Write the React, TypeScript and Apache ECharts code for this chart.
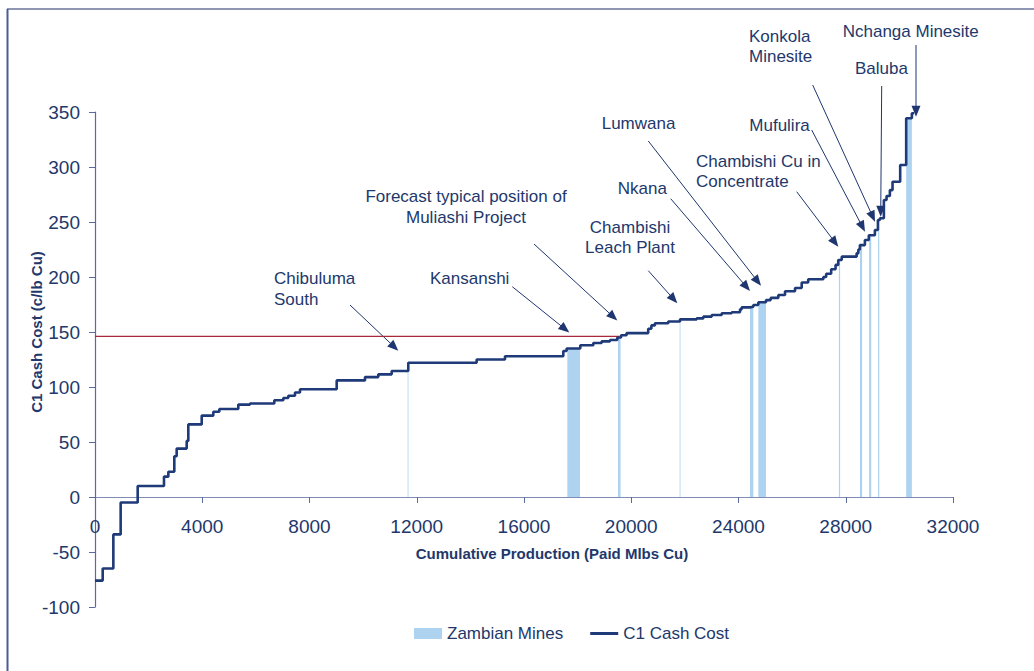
import React, { useEffect, useRef } from "react";
import * as echarts from "echarts";

// ---- Data ----
// Cost-curve steps: cumulative production at which each cost level starts (Mlbs Cu), and the C1 cash cost (c/lb Cu)
const stepStart = [0, 287, 684, 957, 1592, 2573, 2735, 2958, 3046, 3420, 3480, 3980, 4413, 4637, 5345, 5781, 6688, 7024, 7210, 7459, 7646, 9014, 10070, 10566, 11065, 11684, 14234, 15291, 17466, 17590, 18100, 18585, 18896, 19207, 19480, 19620, 19826, 20633, 20750, 20882, 21379, 21819, 22442, 22690, 23001, 23374, 23747, 24057, 24119, 24429, 24553, 24740, 25026, 25200, 25486, 25735, 26108, 26357, 26600, 27164, 27270, 27456, 27620, 27720, 27850, 28405, 28470, 28528, 28714, 28860, 29087, 29200, 29273, 29422, 29522, 29646, 29745, 30030, 30254, 30466, 30550];
const stepCost = [-76, -65, -34, -5, 10, 18.5, 23, 37, 44, 51, 66, 74, 77.5, 80, 84, 85, 88, 90, 92, 95, 98, 106, 109, 111.5, 114.5, 122, 125, 128, 132.7, 135, 138, 140, 141.5, 142.7, 145, 147, 149, 153, 156, 158, 159.5, 161.5, 162.4, 164, 165.5, 167, 168, 170.6, 172.4, 173, 174.5, 177, 179, 181, 183.6, 187, 190, 195, 198, 200, 203, 207, 211, 215.5, 218.5, 221.5, 225, 229, 233.6, 238, 242.7, 251.8, 253.4, 270, 273.6, 279, 286.6, 301.8, 344.3, 348.8, 348.8];

// Zambian mines
const mineNames = ["Chibuluma South", "Kansanshi", "Muliashi Project", "Chambishi Leach Plant", "Nkana", "Lumwana", "Chambishi Cu in Concentrate", "Mufulira", "Konkola Minesite", "Baluba", "Nchanga Minesite"];
const mineStart = [11660, 17615, 19505, 21805, 24429, 24740, 27745, 28530, 28870, 29205, 30254];
const mineEnd = [11690, 18089, 19602, 21835, 24553, 25026, 27790, 28610, 28950, 29250, 30466];
const mineCost = [122, 135, 145, 161.5, 173, 177, 215.5, 229, 238, 251.8, 344.3];

// Reference cost line (forecast position of Muliashi)
const refLineX = [0, 19560];
const refLineCost = [146, 146];

// Axis ticks
const xMin = 0, xMax = 32000, xStep = 4000;
const yMin = -100, yMax = 350, yStep = 50;

// Annotation labels (text only)
const annotationTexts = [
  "Chibuluma\nSouth",
  "Forecast typical position of\nMuliashi Project",
  "Kansanshi",
  "Chambishi\nLeach Plant",
  "Nkana",
  "Lumwana",
  "Chambishi Cu in\nConcentrate",
  "Mufulira",
  "Konkola\nMinesite",
  "Baluba",
  "Nchanga Minesite",
];

// ---- Layout / style ----
const FONT = '"Liberation Sans", Arial, Helvetica, sans-serif';
const NAVY = "#1f3670";
const TEXT = "#22386b";
const LINE = "#1f3a78";
const BAR = "#aed3f0";
const AXIS = "#5a6a9a";

// pixel layout of annotations: text anchor + arrow from/to
const annotLayout = [
  { x: 274, y: 268, align: "left", lh: 21, a: [350, 305, 398.3, 350.7] },
  { x: 466, y: 185.5, align: "center", lh: 21, a: [534, 244, 617.3, 320.5] },
  { x: 430, y: 268, align: "left", lh: 21, a: [512.3, 286.7, 569.3, 332.5] },
  { x: 630, y: 217.5, align: "center", lh: 20, a: [648.3, 270.7, 677.3, 303.3] },
  { x: 617.7, y: 178, align: "left", lh: 21, a: [670.7, 198.7, 750, 291] },
  { x: 601.7, y: 112.5, align: "left", lh: 21, a: [648.3, 141, 761, 285.7] },
  { x: 696, y: 151.5, align: "left", lh: 20, a: [796.7, 191.7, 838.3, 246.7] },
  { x: 749.3, y: 114.5, align: "left", lh: 21, a: [811.7, 130, 865, 231.7] },
  { x: 749, y: 26, align: "left", lh: 20, a: [812.7, 85, 875, 221.7] },
  { x: 855, y: 58, align: "left", lh: 21, a: [881.7, 86, 880.7, 216.7] },
  { x: 842.7, y: 21, align: "left", lh: 21, a: [916, 45, 916, 116.7] },
];

function arrow(x1: number, y1: number, x2: number, y2: number) {
  const dx = x2 - x1, dy = y2 - y1;
  const len = Math.hypot(dx, dy);
  const ux = dx / len, uy = dy / len;
  const L = 11, W = 4.5;
  const bx = x2 - ux * L, by = y2 - uy * L;
  return [
    { type: "line", silent: true, shape: { x1, y1, x2: bx + ux * 2, y2: by + uy * 2 }, style: { stroke: NAVY, lineWidth: 1 } },
    { type: "polygon", silent: true, shape: { points: [[x2, y2], [bx - uy * W, by + ux * W], [bx + uy * W, by - ux * W]] }, style: { fill: NAVY } },
  ];
}

export default function App() {
  const ref = useRef<HTMLDivElement>(null);

  useEffect(() => {
    if (!ref.current) return;
    const chart = echarts.init(ref.current, null, { renderer: "svg" });

    const curveData = stepStart.map((x, i) => [x, stepCost[i]]);
    const mineData = mineNames.map((n, i) => ({ name: n, value: [mineStart[i], mineEnd[i], mineCost[i]] }));
    const refData = refLineX.map((x, i) => [x, refLineCost[i]]);

    const graphics: any[] = [
      // frame
      { type: "line", silent: true, shape: { x1: 7, y1: 9, x2: 1034, y2: 9 }, style: { stroke: "#1f2f6a", lineWidth: 1.2 } },
      { type: "line", silent: true, shape: { x1: 7.5, y1: 9, x2: 7.5, y2: 671 }, style: { stroke: "#4a5c96", lineWidth: 2 } },
      // axis names
      {
        type: "text", silent: true, x: 552, y: 553,
        style: { text: "Cumulative Production (Paid Mlbs Cu)", fill: TEXT, fontSize: 15, fontWeight: "bold", fontFamily: FONT, align: "center", verticalAlign: "middle" },
      },
      {
        type: "text", silent: true, x: 36, y: 332, rotation: Math.PI / 2,
        style: { text: "C1 Cash Cost (c/lb Cu)", fill: TEXT, fontSize: 15, fontWeight: "bold", fontFamily: FONT, align: "center", verticalAlign: "middle" },
      },
    ];
    annotationTexts.forEach((t, i) => {
      const l = annotLayout[i];
      graphics.push({
        type: "text", silent: true, x: l.x, y: l.y,
        style: { text: t, fill: TEXT, fontSize: 17, fontFamily: FONT, align: l.align, verticalAlign: "top", lineHeight: l.lh },
      });
      graphics.push(...arrow(l.a[0], l.a[1], l.a[2], l.a[3]));
    });

    const option: any = {
      animation: false,
      backgroundColor: "#ffffff",
      textStyle: { fontFamily: FONT },
      grid: { left: 95, right: 81, top: 112, bottom: 64, containLabel: false },
      legend: {
        left: 414, top: 625, padding: 0, itemWidth: 28, itemHeight: 11, itemGap: 27,
        textStyle: { fontSize: 17, color: TEXT, fontFamily: FONT },
        data: [
          { name: "Zambian Mines", icon: "rect" },
          { name: "C1 Cash Cost", icon: "path://M0,0h28v3h-28z" },
        ],
      },
      xAxis: {
        type: "value", min: xMin, max: xMax, interval: xStep,
        position: "bottom",
        offset: -110,
        axisLine: { show: true, onZero: false, lineStyle: { color: "#7f8db5", width: 1.2 } },
        axisTick: { show: true, inside: false, length: 6, lineStyle: { color: AXIS } },
        axisLabel: { fontSize: 19, color: TEXT, fontFamily: FONT, margin: 20, formatter: (v: number) => String(v) },
        splitLine: { show: false },
      },
      yAxis: {
        type: "value", min: yMin, max: yMax, interval: yStep,
        axisLine: { show: true, onZero: false, lineStyle: { color: AXIS, width: 1.2 } },
        axisTick: { show: true, inside: false, length: 6, lineStyle: { color: AXIS } },
        axisLabel: { fontSize: 19, color: TEXT, fontFamily: FONT, margin: 15, formatter: (v: number) => String(v) },
        splitLine: { show: false },
      },
      graphic: graphics,
      series: [
        {
          name: "Zambian Mines",
          type: "custom",
          itemStyle: { color: BAR },
          encode: { x: [0, 1], y: 2 },
          data: mineData,
          renderItem: (params: any, api: any) => {
            const p0 = api.coord([api.value(0), api.value(2)]);
            const p1 = api.coord([api.value(1), 0]);
            return {
              type: "rect",
              shape: { x: p0[0], y: p0[1], width: Math.max(p1[0] - p0[0], 0.6), height: p1[1] - p0[1] },
              style: { fill: BAR },
            };
          },
          z: 1,
        },
        {
          name: "Muliashi reference",
          type: "line",
          data: refData,
          symbol: "none",
          silent: true,
          lineStyle: { color: "#a8283c", width: 1.2 },
          z: 2,
        },
        {
          name: "C1 Cash Cost",
          type: "line",
          step: "end",
          data: curveData,
          symbol: "none",
          showSymbol: false,
          itemStyle: { color: LINE },
          lineStyle: { color: LINE, width: 2.6 },
          z: 3,
        },
      ],
    };

    chart.setOption(option);
    return () => chart.dispose();
  }, []);

  return <div ref={ref} style={{ position: "fixed", left: 0, top: 0, width: 1034, height: 671, background: "#fff" }} />;
}
